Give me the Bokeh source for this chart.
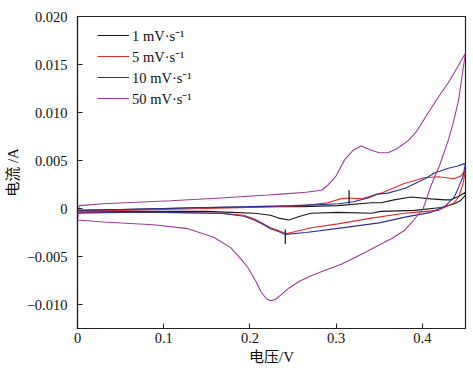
from bokeh.plotting import figure
from bokeh.models import Range1d, FixedTicker, Legend, LegendItem
from bokeh.embed import file_html
from bokeh.resources import INLINE

# ---- data ----
series_labels = ["1 mV·s⁻¹", "5 mV·s⁻¹", "10 mV·s⁻¹", "50 mV·s⁻¹"]
series_colors = ["#1a1a1a", "#de2a2e", "#2e3196", "#a03c98"]

# 1 mV/s
v1_fwd = [0.0, 0.05, 0.10, 0.15, 0.20, 0.224, 0.26, 0.302, 0.341, 0.352, 0.367, 0.387, 0.41, 0.426, 0.433, 0.443, 0.45]
i1_fwd = [-0.0002, -0.0001, 0.0, 0.0001, 0.00015, 0.0002, 0.0002, 0.0003, 0.0006, 0.0006, 0.0009, 0.0012, 0.0010, 0.0009, 0.0009, 0.0013, 0.0017]
v1_rev = [0.45, 0.444, 0.437, 0.422, 0.391, 0.352, 0.341, 0.302, 0.271, 0.258, 0.245, 0.233, 0.224, 0.205, 0.178, 0.15, 0.10, 0.05, 0.0]
i1_rev = [0.0014, 0.0008, 0.0005, 0.0001, -0.0002, -0.0003, -0.0005, -0.0004, -0.0005, -0.0008, -0.0012, -0.0010, -0.0007, -0.0005, -0.0004, -0.0003, -0.0003, -0.0003, -0.0003]

# 5 mV/s
v5_fwd = [0.0, 0.05, 0.10, 0.15, 0.20, 0.263, 0.29, 0.305, 0.315, 0.33, 0.352, 0.379, 0.402, 0.419, 0.437, 0.445, 0.45]
i5_fwd = [-0.0003, -0.0002, -0.0001, 0.0, 0.0001, 0.0003, 0.0006, 0.0010, 0.0011, 0.0010, 0.0016, 0.0026, 0.0032, 0.0033, 0.0031, 0.0034, 0.0040]
v5_rev = [0.45, 0.447, 0.442, 0.437, 0.418, 0.391, 0.379, 0.341, 0.302, 0.271, 0.248, 0.242, 0.233, 0.224, 0.216, 0.205, 0.193, 0.166, 0.10, 0.05, 0.0]
i5_rev = [0.0040, 0.0025, 0.0012, 0.0006, -0.0002, -0.0004, -0.0005, -0.0010, -0.0016, -0.0020, -0.0025, -0.0026, -0.0023, -0.0020, -0.0016, -0.0011, -0.0007, -0.0005, -0.0004, -0.0004, -0.0004]

# 10 mV/s
v10_fwd = [0.0, 0.05, 0.10, 0.15, 0.20, 0.25, 0.28, 0.303, 0.32, 0.337, 0.348, 0.36, 0.38, 0.403, 0.414, 0.43, 0.44, 0.45]
i10_fwd = [-0.0002, -0.0001, 0.0, 0.0001, 0.0002, 0.0003, 0.0004, 0.0005, 0.0007, 0.0011, 0.0015, 0.0016, 0.0021, 0.0031, 0.0037, 0.0042, 0.0044, 0.0047]
v10_rev = [0.45, 0.447, 0.442, 0.437, 0.426, 0.41, 0.38, 0.35, 0.30, 0.265, 0.241, 0.233, 0.224, 0.216, 0.205, 0.193, 0.166, 0.10, 0.05, 0.0]
i10_rev = [0.0047, 0.0033, 0.0022, 0.0012, 0.0002, -0.0004, -0.0009, -0.0015, -0.0021, -0.0025, -0.0027, -0.0024, -0.0021, -0.0017, -0.0012, -0.0008, -0.0005, -0.0004, -0.0004, -0.0005]

# 50 mV/s
v50_fwd = [0.0, 0.002, 0.03, 0.108, 0.166, 0.221, 0.236, 0.265, 0.283, 0.29, 0.30, 0.31, 0.32, 0.329, 0.34, 0.35, 0.36, 0.37, 0.384, 0.393, 0.407, 0.42, 0.43, 0.44, 0.45]
i50_fwd = [-0.0012, 0.0003, 0.0005, 0.0008, 0.0011, 0.0014, 0.0015, 0.0017, 0.0019, 0.0024, 0.0034, 0.0051, 0.0061, 0.0065, 0.0061, 0.0058, 0.0058, 0.0062, 0.0071, 0.0080, 0.0100, 0.0118, 0.0131, 0.0146, 0.0162]
v50_rev = [0.45, 0.446, 0.442, 0.436, 0.43, 0.42, 0.41, 0.401, 0.39, 0.379, 0.365, 0.352, 0.333, 0.306, 0.288, 0.271, 0.257, 0.245, 0.236, 0.229, 0.224, 0.219, 0.213, 0.207, 0.198, 0.19, 0.178, 0.158, 0.128, 0.088, 0.03, 0.0]
i50_rev = [0.0162, 0.0138, 0.0113, 0.0090, 0.0071, 0.0045, 0.0024, 0.0000, -0.0012, -0.0023, -0.0031, -0.0037, -0.0046, -0.0058, -0.0064, -0.0070, -0.0076, -0.0083, -0.0090, -0.0095, -0.0096, -0.0094, -0.0087, -0.0076, -0.0062, -0.0053, -0.0041, -0.0030, -0.0021, -0.0017, -0.0014, -0.0012]

# peak markers
mark_x = [0.315, 0.241]
mark_y0 = [0.0005, -0.0022]
mark_y1 = [0.0019, -0.0037]

x_ticks = [0.0, 0.1, 0.2, 0.3, 0.4]
x_tick_labels = ["0", "0.1", "0.2", "0.3", "0.4"]
y_ticks = [-0.010, -0.005, 0.0, 0.005, 0.010, 0.015, 0.020]
y_tick_labels = ["−0.010", "−0.005", "0", "0.005", "0.010", "0.015", "0.020"]

SERIF = "Liberation Serif"
CJK = "Liberation Serif, Noto Sans CJK SC"

p = figure(width=473, height=372, output_backend="svg", toolbar_location=None,
           x_range=Range1d(0, 0.45), y_range=Range1d(-0.0125, 0.020),
           min_border_left=77, min_border_right=8, min_border_top=16, min_border_bottom=44)
p.grid.visible = False
p.outline_line_color = "#222222"
p.outline_line_width = 1.2
p.background_fill_color = "white"
p.border_fill_color = "white"

curves = [
    (v1_fwd + v1_rev, i1_fwd + i1_rev),
    (v5_fwd + v5_rev, i5_fwd + i5_rev),
    (v10_fwd + v10_rev, i10_fwd + i10_rev),
    (v50_fwd + v50_rev, i50_fwd + i50_rev),
]
items = []
for (xs, ys), lab, col in zip(curves, series_labels, series_colors):
    r = p.line(xs, ys, line_color=col, line_width=1.1)
    items.append(LegendItem(label=lab, renderers=[r]))

p.segment(x0=mark_x, y0=mark_y0, x1=mark_x, y1=mark_y1, line_color="#222222", line_width=1.3)

legend = Legend(items=items, location=(20, 220), margin=0, padding=0,
                border_line_color=None, background_fill_alpha=0,
                glyph_width=32, glyph_height=20, spacing=1, label_standoff=3,
                label_text_font=SERIF, label_text_font_size="14.5px",
                label_text_color="#111111")
p.add_layout(legend)

for ax in (p.xaxis[0], p.yaxis[0]):
    ax.axis_line_color = "#222222"
    ax.axis_line_width = 1.2
    ax.major_tick_in = 5
    ax.major_tick_out = 0
    ax.major_tick_line_color = "#222222"
    ax.minor_tick_line_color = None
    ax.major_label_text_font = SERIF
    ax.major_label_text_font_size = "14.5px"
    ax.major_label_text_color = "#111111"
    ax.axis_label_text_font = CJK
    ax.axis_label_text_font_size = "15px"
    ax.axis_label_text_font_style = "normal"
    ax.axis_label_text_color = "#111111"

p.xaxis.ticker = FixedTicker(ticks=x_ticks)
p.xaxis.major_label_overrides = dict(zip(x_ticks, x_tick_labels))
p.yaxis.ticker = FixedTicker(ticks=y_ticks)
p.yaxis.major_label_overrides = dict(zip(y_ticks, y_tick_labels))
p.xaxis.axis_label = "电压/V"
p.yaxis.axis_label = "电流 /A"
p.xaxis.major_label_standoff = 4
p.yaxis.major_label_standoff = 10
p.xaxis.axis_label_standoff = 3
p.yaxis.axis_label_standoff = 3

open("out.html", "w").write(file_html(p, INLINE))
